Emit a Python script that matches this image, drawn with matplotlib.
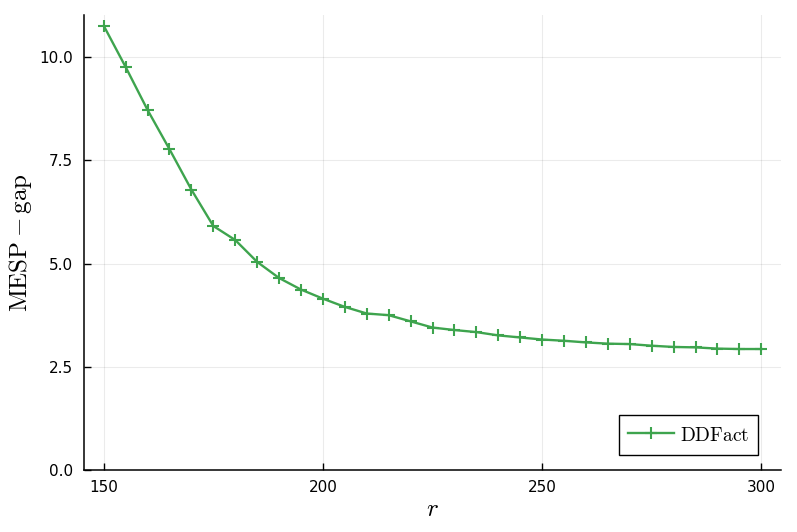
import matplotlib
matplotlib.use("Agg")
import matplotlib.pyplot as plt

r = [150, 155, 160, 165, 170, 175, 180, 185, 190, 195, 200, 205, 210, 215, 220,
     225, 230, 235, 240, 245, 250, 255, 260, 265, 270, 275, 280, 285, 290, 295, 300]
gap = [10.76, 9.76, 8.72, 7.77, 6.79, 5.91, 5.57, 5.04, 4.65, 4.37, 4.15, 3.95,
       3.79, 3.75, 3.60, 3.45, 3.39, 3.34, 3.26, 3.21, 3.16, 3.13, 3.09, 3.06,
       3.05, 3.01, 2.98, 2.97, 2.94, 2.93, 2.93]
xticks = [150, 200, 250, 300]
yticks = [0.0, 2.5, 5.0, 7.5, 10.0]

plt.rcParams['mathtext.fontset'] = 'cm'
plt.rcParams['font.family'] = ['DejaVu Sans']

fig = plt.figure(figsize=(7.97, 5.32), dpi=100)
ax = fig.add_axes([84/797, 1-470/532, (781-84)/797, (470-15)/532])
color = '#3EA44E'
ax.plot(r, gap, color=color, lw=1.7, marker='+', ms=9, mew=1.5, label=r'$\mathrm{DDFact}$')
ax.set_xlim(145.5, 304.5)
ax.set_ylim(0, 11.02)
ax.set_xticks(xticks)
ax.set_xticklabels([str(t) for t in xticks])
ax.set_yticks(yticks)
ax.set_yticklabels([f"{t:.1f}" for t in yticks])
ax.tick_params(direction='in', length=5, width=1, labelsize=11, colors='black')
ax.tick_params(axis='y', pad=8)
ax.tick_params(axis='x', pad=7)
ax.grid(True, color='black', alpha=0.08, lw=0.8)
for s in ['left', 'bottom']:
    ax.spines[s].set_linewidth(1.1)
ax.spines['top'].set_visible(False)
ax.spines['right'].set_visible(False)
ax.set_xlabel(r'$r$', fontsize=18, labelpad=2)
ax.set_ylabel(r'$\mathrm{MESP}-\mathrm{gap}$', fontsize=18, labelpad=4)
leg = ax.legend(loc='lower right', fontsize=14, frameon=True, fancybox=False,
                edgecolor='black', framealpha=1, borderaxespad=0,
                bbox_to_anchor=(758/797, 1-455/532), bbox_transform=fig.transFigure,
                handlelength=2.4, handleheight=1.4, borderpad=0.45, handletextpad=0.3)
leg.get_frame().set_linewidth(1)
fig.savefig('out.png', dpi=100)
